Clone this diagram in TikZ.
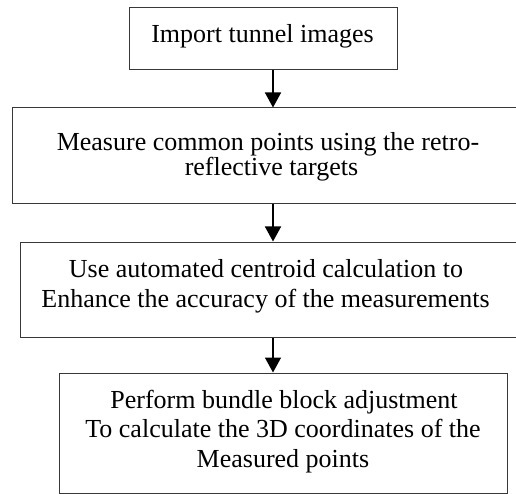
\documentclass[tikz,border=0pt]{standalone}
\usepackage{fontspec}
\setmainfont{Liberation Serif}
\usetikzlibrary{arrows.meta}
\begin{document}
\begin{tikzpicture}[x=1pt,y=-1pt,
  boxstyle/.style={draw=black!78,line width=1pt,rectangle,inner sep=0pt},
  txt/.style={anchor=base,inner sep=0pt,font=\fontsize{26}{30}\selectfont},
  flow/.style={line width=1.5pt,-{Triangle[width=16pt,length=15pt]}}]
\useasboundingbox (0,0) rectangle (516,494);
\clip (0,0) rectangle (516,494);
% boxes
\node[boxstyle,minimum width=268pt,minimum height=62pt] (b1) at (263,39) {};
\node[boxstyle,minimum width=522pt,minimum height=96pt] (b2) at (273,156) {};
\node[boxstyle,minimum width=510pt,minimum height=95pt] (b3) at (275,289.5) {};
\node[boxstyle,minimum width=448pt,minimum height=120pt] (b4) at (283,433) {};
% texts
\node[txt] (t1) at (262.5,43) {Import tunnel images};
\node[txt] (t2a) at (268,151) {Measure common points using the retro-};
\node[txt] (t2b) at (271.5,176) {reflective targets};
\node[txt] (t3a) at (266,277) {Use automated centroid calculation to};
\node[txt] (t3b) at (265.5,307) {Enhance the accuracy of the measurements};
\node[txt] (t4a) at (284,408) {Perform bundle block adjustment};
\node[txt] (t4b) at (283,437) {To calculate the 3D coordinates of the};
\node[txt] (t4c) at (283,467) {Measured points};
% arrows
\coordinate (ax) at (273,0);
\draw[flow] (b1.south -| ax) -- (b2.north -| ax);
\draw[flow] (b2.south -| ax) -- (b3.north -| ax);
\draw[flow] (b3.south -| ax) -- (b4.north -| ax);
\end{tikzpicture}
\end{document}
